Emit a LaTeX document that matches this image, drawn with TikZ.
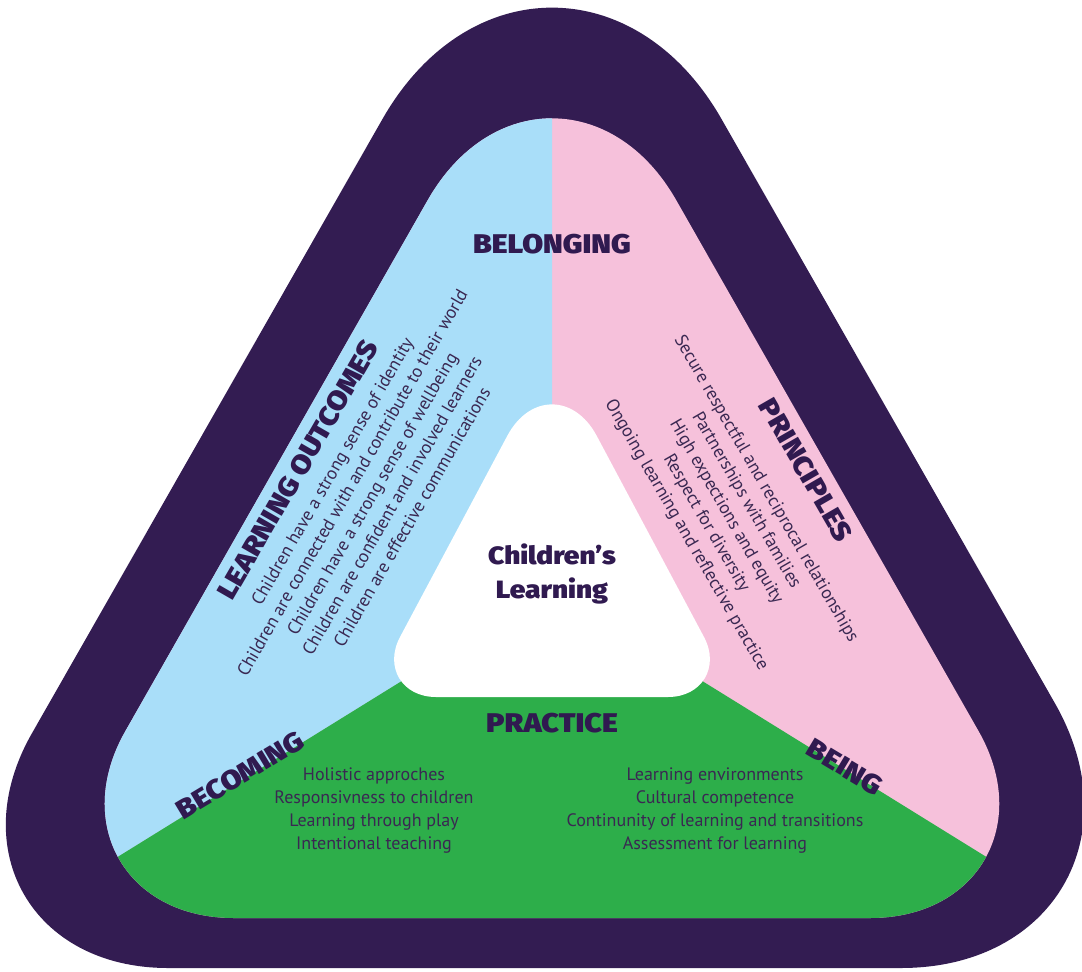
\documentclass[tikz,border=0pt]{standalone}
\usepackage{fontspec}
\setmainfont{PT Sans}
\IfFontExistsTF{Fira Sans Black}
	{\newfontfamily\headfont{Fira Sans Black}[FakeStretch=1.12]}
	{\newfontfamily\headfont{Fira Sans}[UprightFont={* Bold},FakeStretch=1.12]}
\usetikzlibrary{calc}

\definecolor{bandpurple}{RGB}{51,28,82}
\definecolor{belongblue}{RGB}{169,222,249}
\definecolor{beingpink}{RGB}{246,193,219}
\definecolor{practicegreen}{RGB}{45,174,74}
\definecolor{inkpurple}{RGB}{48,26,80}
\definecolor{listpurple}{RGB}{58,40,82}

\begin{document}
\begin{tikzpicture}[
x=1pt, y=-1pt,
heading/.style={
	% The font:
	font=\headfont\fontsize{27}{34}\selectfont,
	text=inkpurple,
	% The box:
	inner sep=0pt},
listing/.style={
	% The font:
	font=\fontsize{18}{23}\selectfont,
	text=listpurple,
	% The box:
	align=center, inner sep=0pt},
% a triangle with soft corners: apex, left, right, then how far each corner is cut
softtriangle/.style n args={6}{insert path={
	($(#1)!#4pt!(#2)$) -- ($(#2)!#5pt!(#1)$)
	.. controls ($(#2)!0.5*#5pt!(#1)$) and ($(#2)!0.5*#5pt!(#3)$) .. ($(#2)!#5pt!(#3)$)
	-- ($(#3)!#6pt!(#2)$)
	.. controls ($(#3)!0.5*#6pt!(#2)$) and ($(#3)!0.5*#6pt!(#1)$) .. ($(#3)!#6pt!(#1)$)
	-- ($(#1)!#4pt!(#3)$)
	.. controls ($(#1)!0.5*#4pt!(#3)$) and ($(#1)!0.5*#4pt!(#2)$) .. ($(#1)!#4pt!(#2)$)
	-- cycle}},
]

\fill[white] (0,0) rectangle (1082,972);
\useasboundingbox (0,0) rectangle (1082,972);

% corners of the outer band, the coloured zones and the centre
\coordinate (bandA) at (552,-178);
\coordinate (bandB) at (-102,968);
\coordinate (bandC) at (1206,968);
\coordinate (zoneA) at (552,-18);
\coordinate (zoneB) at (19,918);
\coordinate (zoneC) at (1085,918);
\coordinate (coreA) at (552,352);
\coordinate (coreB) at (368,697);
\coordinate (coreC) at (736,697);
\coordinate (hub) at (552,588);

\fill[bandpurple] [softtriangle={bandA}{bandB}{bandC}{342}{270}{305}];

\begin{scope}
\clip [softtriangle={zoneA}{zoneB}{zoneC}{251}{215}{215}];
\fill[beingpink] (0,0) rectangle (1082,972);
\fill[belongblue] (hub) -- (552,-50) -- (-50,-50) -- ($(hub)!1.2!(zoneB)$) -- cycle;
\fill[practicegreen] (hub) -- ($(hub)!1.2!(zoneB)$) -- ($(hub)!1.2!(zoneC)$) -- cycle;
\end{scope}

\fill[white] [softtriangle={coreA}{coreB}{coreC}{95}{68}{68}];

\node (belonging) [heading] at (552,244) {BELONGING};
\node (practice) [heading] at (552,723) {PRACTICE};
\node (learning) [heading, align=center, font=\headfont\fontsize{25}{34}\selectfont] at (552,574) {Children’s\\Learning};
\node (outcomes) [heading, rotate=60] at (298,470) {LEARNING OUTCOMES};
\node (principles) [heading, rotate=-60] at (806,470) {PRINCIPLES};
\node (becoming) [heading, rotate=31] at (240,775) {BECOMING};
\node (being) [heading, rotate=-31] at (845,767) {BEING};

\node (outcomelist) [listing, rotate=60] at (372,494) {Children have a strong sense of identity\\
Children are connected with and contribute to their world\\
Children have a strong sense of wellbeing\\
Children are confident and involved learners\\
Children are effective communications};
\node (principlelist) [listing, rotate=-60] at (726,512) {Secure respectful and reciprocal relationships\\
Partnerships with families\\
High expections and equity\\
Respect for diversity\\
Ongoing learning and reflective practice};
\node (becominglist) [listing] at (374,811) {Holistic approches\\
Responsivness to children\\
Learning through play\\
Intentional teaching};
\node (beinglist) [listing] at (715,811) {Learning environments\\
Cultural competence\\
Continunity of learning and transitions\\
Assessment for learning};
\end{tikzpicture}
\end{document}
